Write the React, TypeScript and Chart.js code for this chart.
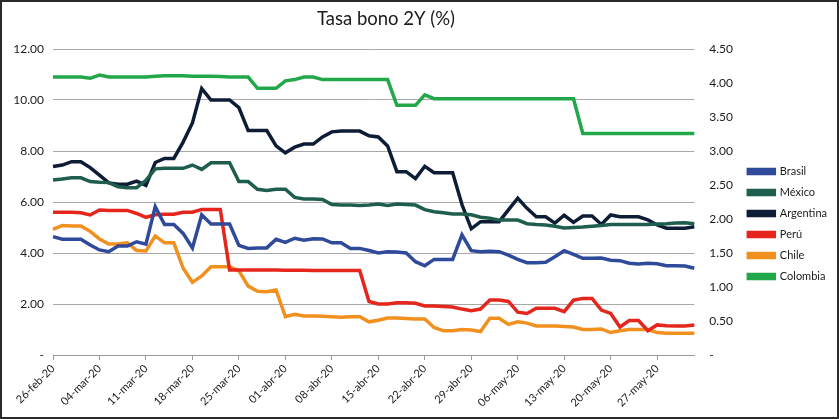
import React, { useEffect, useRef } from 'react';
import { Chart, registerables } from 'chart.js';

Chart.register(...registerables);

const TITLE = 'Tasa bono 2Y (%)';
const FONT = 'Lato, "Open Sans", sans-serif';

const labels = [
  '26-feb-20', '27-feb-20', '28-feb-20',
  '02-mar-20', '03-mar-20', '04-mar-20', '05-mar-20', '06-mar-20', '09-mar-20', '10-mar-20', '11-mar-20', '12-mar-20', '13-mar-20',
  '16-mar-20', '17-mar-20', '18-mar-20', '19-mar-20', '20-mar-20', '23-mar-20', '24-mar-20', '25-mar-20', '26-mar-20', '27-mar-20',
  '30-mar-20', '31-mar-20',
  '01-abr-20', '02-abr-20', '03-abr-20', '06-abr-20', '07-abr-20', '08-abr-20', '09-abr-20', '10-abr-20', '13-abr-20', '14-abr-20',
  '15-abr-20', '16-abr-20', '17-abr-20', '20-abr-20', '21-abr-20', '22-abr-20', '23-abr-20', '24-abr-20', '27-abr-20', '28-abr-20',
  '29-abr-20', '30-abr-20',
  '01-may-20', '04-may-20', '05-may-20', '06-may-20', '07-may-20', '08-may-20', '11-may-20', '12-may-20', '13-may-20', '14-may-20',
  '15-may-20', '18-may-20', '19-may-20', '20-may-20', '21-may-20', '22-may-20', '25-may-20', '26-may-20', '27-may-20', '28-may-20',
  '29-may-20',
  '01-jun-20', '02-jun-20',
];

const brasil = [
  4.64, 4.54, 4.54, 4.54, 4.31, 4.12, 4.05, 4.27, 4.27, 4.44,
  4.35, 5.82, 5.12, 5.12, 4.77, 4.2, 5.5, 5.14, 5.14, 5.14,
  4.3, 4.18, 4.2, 4.2, 4.54, 4.42, 4.58, 4.5, 4.56, 4.55,
  4.4, 4.4, 4.18, 4.18, 4.1, 4.0, 4.05, 4.04, 4.0, 3.66,
  3.5, 3.75, 3.75, 3.75, 4.71, 4.09, 4.05, 4.07, 4.05, 3.92,
  3.75, 3.62, 3.62, 3.64, 3.85, 4.09, 3.95, 3.79, 3.79, 3.8,
  3.72, 3.7, 3.6, 3.57, 3.6, 3.58, 3.5, 3.5, 3.49, 3.4,
];

const mexico = [
  6.86, 6.9, 6.95, 6.95, 6.8, 6.77, 6.76, 6.6, 6.56, 6.56,
  6.85, 7.3, 7.32, 7.32, 7.32, 7.45, 7.28, 7.54, 7.54, 7.54,
  6.8, 6.8, 6.5, 6.45, 6.5, 6.5, 6.18, 6.12, 6.12, 6.1,
  5.9, 5.88, 5.88, 5.86, 5.88, 5.92, 5.86, 5.92, 5.9, 5.88,
  5.7, 5.62, 5.58, 5.53, 5.53, 5.5, 5.4, 5.36, 5.29, 5.29,
  5.29, 5.15, 5.12, 5.1, 5.05, 4.98, 5.0, 5.02, 5.05, 5.08,
  5.12, 5.12, 5.12, 5.12, 5.12, 5.14, 5.15, 5.18, 5.19, 5.15,
];

const argentina = [
  7.39, 7.45, 7.58, 7.58, 7.35, 7.05, 6.75, 6.7, 6.7, 6.82,
  6.65, 7.55, 7.71, 7.71, 8.35, 9.1, 10.45, 10.0, 10.0, 10.0,
  9.7, 8.8, 8.8, 8.8, 8.2, 7.93, 8.15, 8.27, 8.27, 8.55,
  8.75, 8.78, 8.78, 8.78, 8.6, 8.55, 8.2, 7.19, 7.19, 6.92,
  7.4, 7.15, 7.15, 7.15, 5.9, 4.95, 5.23, 5.23, 5.23, 5.69,
  6.15, 5.75, 5.42, 5.42, 5.17, 5.48, 5.2, 5.45, 5.45, 5.12,
  5.49, 5.42, 5.42, 5.42, 5.3, 5.1, 4.97, 4.97, 4.97, 5.03,
];

const peru = [
  5.6, 5.6, 5.6, 5.58, 5.49, 5.69, 5.67, 5.67, 5.67, 5.55,
  5.4, 5.5, 5.52, 5.52, 5.6, 5.6, 5.71, 5.71, 5.71, 3.33,
  3.33, 3.33, 3.33, 3.33, 3.33, 3.32, 3.32, 3.32, 3.31, 3.31,
  3.31, 3.31, 3.31, 3.31, 2.1, 2.0, 2.0, 2.05, 2.05, 2.03,
  1.92, 1.92, 1.9, 1.88, 1.8, 1.74, 1.8, 2.16, 2.16, 2.1,
  1.68, 1.63, 1.83, 1.83, 1.83, 1.7, 2.15, 2.22, 2.22, 1.76,
  1.63, 1.1, 1.35, 1.35, 0.95, 1.18, 1.15, 1.14, 1.14, 1.18,
];

const chile = [
  4.93, 5.08, 5.06, 5.06, 4.85, 4.55, 4.35, 4.35, 4.4, 4.1,
  4.08, 4.67, 4.4, 4.4, 3.4, 2.85, 3.1, 3.46, 3.46, 3.46,
  3.3, 2.7, 2.5, 2.48, 2.55, 1.5, 1.6, 1.53, 1.53, 1.52,
  1.5, 1.48, 1.5, 1.5, 1.3, 1.36, 1.45, 1.45, 1.43, 1.41,
  1.41, 1.08, 0.95, 0.95, 1.0, 0.98, 0.92, 1.44, 1.44, 1.2,
  1.3, 1.25, 1.14, 1.14, 1.14, 1.12, 1.1, 1.0, 1.0, 1.02,
  0.88, 0.95, 1.0, 1.0, 1.0, 0.88, 0.85, 0.85, 0.85, 0.85,
];

const colombia = [
  10.9, 10.9, 10.9, 10.9, 10.85, 10.98, 10.9, 10.9, 10.9, 10.9,
  10.9, 10.93, 10.95, 10.95, 10.95, 10.93, 10.93, 10.93, 10.92, 10.9,
  10.9, 10.9, 10.46, 10.46, 10.46, 10.75, 10.8, 10.9, 10.9, 10.8,
  10.8, 10.8, 10.8, 10.8, 10.8, 10.8, 10.8, 9.79, 9.79, 9.79,
  10.2, 10.05, 10.05, 10.05, 10.05, 10.05, 10.05, 10.05, 10.05, 10.05,
  10.05, 10.05, 10.05, 10.05, 10.05, 10.05, 10.05, 8.69, 8.69, 8.69,
  8.69, 8.69, 8.69, 8.69, 8.69, 8.69, 8.69, 8.69, 8.69, 8.69,
];

const seriesNames = ['Brasil', 'México', 'Argentina', 'Perú', 'Chile', 'Colombia'];
const seriesValues = [brasil, mexico, argentina, peru, chile, colombia];
const seriesColors = ['#2f4a9a', '#1f5e4e', '#0e1d36', '#e4261d', '#f2901f', '#22a74b'];

export default function App() {
  const ref = useRef<HTMLCanvasElement>(null);

  useEffect(() => {
    document.body.style.margin = '0';
    const titlePlugin = {
      id: 'customTitle',
      afterLayout(chart: any) {
        const lg = chart.legend;
        if (lg) {
          lg.top -= 9;
          lg.bottom -= 9;
        }
      },
      afterDraw(chart: any) {
        const ctx = chart.ctx;
        ctx.save();
        ctx.font = `18.5px ${FONT}`;
        ctx.fillStyle = '#1a1a1a';
        ctx.textAlign = 'center';
        ctx.textBaseline = 'middle';
        ctx.fillText(TITLE, 384, 17);
        ctx.restore();
      },
    };
    const chart = new Chart(ref.current as HTMLCanvasElement, {
      type: 'line',
      data: {
        labels,
        datasets: seriesNames.map((name, i) => ({
          label: name,
          data: seriesValues[i],
          borderColor: seriesColors[i],
          backgroundColor: seriesColors[i],
          borderWidth: 3.5,
          pointRadius: 0,
          tension: 0,
          fill: false,
          yAxisID: 'y',
        })),
      },
      options: {
        animation: false,
        responsive: false,
        layout: { padding: { top: 47, right: 0, left: 0, bottom: 0 } },
        plugins: {
          legend: {
            position: 'right',
            align: 'center',
            labels: {
              boxWidth: 26,
              boxHeight: 4,
              padding: 10,
              color: '#1a1a1a',
              font: { family: FONT, size: 11 },
            },
          },
          title: { display: false },
          tooltip: { enabled: false },
        },
        scales: {
          x: {
            type: 'category',
            offset: false,
            grid: {
              drawOnChartArea: false,
              drawTicks: true,
              tickLength: 5,
              color: (c: any) => (c.index % 5 === 0 ? '#9a9a9a' : 'rgba(0,0,0,0)'),
            },
            border: { display: true, color: '#9a9a9a', width: 1 },
            ticks: {
              autoSkip: false,
              maxRotation: 45,
              minRotation: 45,
              padding: 2,
              color: '#1a1a1a',
              font: { family: FONT, size: 11 },
              callback: (_v: any, i: number) => (i % 5 === 0 ? labels[i] : ''),
            },
            afterFit: (s: any) => { s.height = 62; },
          },
          y: {
            position: 'left',
            min: 0,
            max: 12,
            ticks: {
              stepSize: 2,
              padding: 9,
              color: '#1a1a1a',
              font: { family: FONT, size: 12 },
              callback: (v: any) => (Number(v) === 0 ? '-' : Number(v).toFixed(2)),
            },
            grid: { color: '#a8a8a8', lineWidth: 1, drawTicks: false },
            border: { display: false },
            afterFit: (s: any) => { s.width = 51; },
          },
          y1: {
            display: true,
            position: 'right',
            min: 0,
            max: 4.5,
            ticks: {
              stepSize: 0.5,
              padding: 15,
              color: '#1a1a1a',
              font: { family: FONT, size: 12 },
              callback: (v: any) => (Number(v) === 0 ? '-' : Number(v).toFixed(2)),
            },
            grid: { drawOnChartArea: false, drawTicks: false },
            border: { display: false },
            afterFit: (s: any) => { s.width = 44; },
          },
        },
      },
      plugins: [titlePlugin],
    } as any);
    return () => chart.destroy();
  }, []);

  return (
    <div
      style={{
        position: 'absolute',
        left: 0,
        top: 0,
        width: 839,
        height: 419,
        boxSizing: 'border-box',
        border: '2px solid #2a2a2a',
        background: '#fff',
      }}
    >
      <canvas ref={ref} width={835} height={415} style={{ display: 'block' }} />
    </div>
  );
}
